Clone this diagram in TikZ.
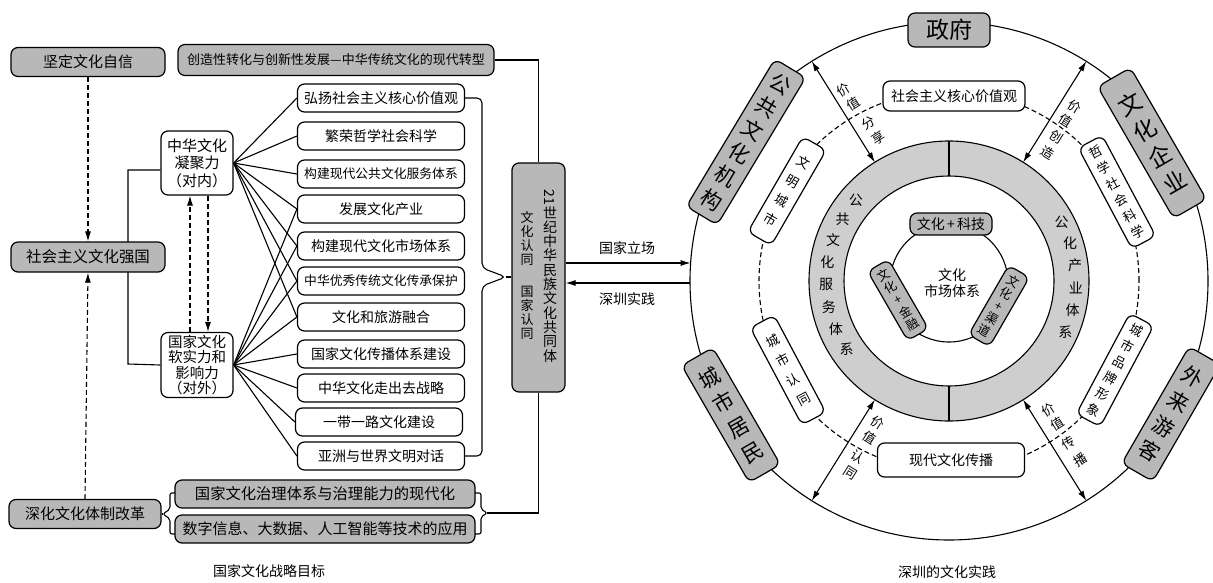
\documentclass[tikz,border=0pt]{standalone}
\usepackage{fontspec}
\setmainfont{Noto Sans CJK SC}
\usepackage{graphicx}
\usetikzlibrary{arrows.meta,calc,backgrounds}
\definecolor{boxgray}{HTML}{B8B8B8}
\definecolor{ringgray}{HTML}{CECECE}
\newcommand{\fsz}[2]{\fontsize{#1}{#2}\selectfont}
\tikzset{
  base/.style={draw, line width=1.2pt, inner sep=0pt, align=center},
  gbox/.style={base, fill=boxgray, rounded corners=7pt},
  wbox/.style={base, fill=white, rounded corners=7pt},
  lbox/.style={wbox, minimum width=167pt, minimum height=28pt, font=\fsz{14}{16}},
  conn/.style={line width=1.1pt},
  dsh/.style={line width=1.1pt, dash pattern=on 5pt off 3pt},
  tip/.style={-{Latex[length=10pt,width=6pt]}},
  dtip/.style={{Latex[length=10pt,width=6pt]}-{Latex[length=10pt,width=6pt]}},
  lab/.style={font=\fsz{14}{16}, inner sep=1pt},
  alab/.style={font=\fsz{13}{13}, inner sep=0pt},
}
\begin{document}
\begin{tikzpicture}[x=1pt,y=-1pt]
\useasboundingbox (0,0) rectangle (1213,583);
% ---------------- left panel ----------------
\node[gbox, minimum width=154pt, minimum height=29pt, font=\fsz{15}{17}] (jd) at (88,62) {坚定文化自信};
\node[gbox, minimum width=154pt, minimum height=30pt, font=\fsz{15.5}{17}] (sh) at (88,257) {社会主义文化强国};
\node[gbox, minimum width=152pt, minimum height=29pt, font=\fsz{15}{17}] (sc) at (85,514) {深化文化体制改革};
\node[wbox, minimum width=72pt, minimum height=64pt, font=\fsz{15}{17.5}] (nj) at (197,163) {中华文化\\凝聚力\\（对内）};
\node[wbox, minimum width=72pt, minimum height=65pt, font=\fsz{14.5}{15.5}] (rs) at (197,365) {国家文化\\软实力和\\影响力\\（对外）};
\node[gbox, minimum width=316pt, minimum height=31pt, font=\fsz{13}{15}] (cz) at (336,60) {创造性转化与创新性发展—中华传统文化的现代转型};
\node[lbox] (b1) at (381,98) {弘扬社会主义核心价值观};
\node[lbox] (b2) at (381,136) {繁荣哲学社会科学};
\node[lbox, font=\fsz{12.8}{15}] (b3) at (381,174) {构建现代公共文化服务体系};
\node[lbox] (b4) at (381,209) {发展文化产业};
\node[lbox] (b5) at (381,246) {构建现代文化市场体系};
\node[lbox, font=\fsz{12.8}{15}] (b6) at (381,281) {中华优秀传统文化传承保护};
\node[lbox] (b7) at (381,317) {文化和旅游融合};
\node[lbox] (b8) at (381,354) {国家文化传播体系建设};
\node[lbox] (b9) at (381,388) {中华文化走出去战略};
\node[lbox] (b10) at (379,422) {一带一路文化建设};
\node[lbox] (b11) at (381,456) {亚洲与世界文明对话};
\node[gbox, minimum width=300pt, minimum height=28pt, font=\fsz{15.3}{17}] (zl) at (325,494) {国家文化治理体系与治理能力的现代化};
\node[gbox, minimum width=300pt, minimum height=28pt, font=\fsz{15}{17}] (sz) at (325,529) {数字信息、大数据、人工智能等技术的应用};
\node[gbox, minimum width=53pt, minimum height=229pt] (gt) at (538.5,277.5) {};
\node[font=\fsz{14}{14.3}, align=center, inner sep=0pt] (gtr) at (550,276) {\rotatebox{-90}{21}\\世\\纪\\中\\华\\民\\族\\文\\化\\共\\同\\体};
\node[font=\fsz{13}{14}, align=center, inner sep=0pt] (gtl) at (527,275.5) {文\\化\\认\\同\\[18pt]国\\家\\认\\同};
\node[lab] (gjlc) at (627,248) {国家立场};
\node[lab] (szsj) at (627,299) {深圳实践};
\node[lab] (cap1) at (269,571) {国家文化战略目标};
\node[lab] (cap2) at (947,572) {深圳的文化实践};
\coordinate (btip) at (506,277);
\coordinate (ltip) at (163,514);
\coordinate (rtip) at (487,513);
\coordinate (p1) at (690.6,263);
\coordinate (p2) at (690.2,283);

% ---------------- right panel ----------------
\coordinate (C) at (949,281);
\node[gbox, minimum width=82pt, minimum height=34pt, font=\fsz{23}{25}] (zf) at (949,30) {政府};
\node[gbox, rotate=-31, minimum width=36pt, minimum height=172pt, font=\fsz{21}{27}] (gg) at (746,142) {公\\共\\文\\化\\机\\构};
\node[gbox, rotate=30, minimum width=38pt, minimum height=152pt, font=\fsz{23}{30}] (wq) at (1152,143) {文\\化\\企\\业};
\node[gbox, rotate=30, minimum width=36pt, minimum height=135pt, font=\fsz{21}{28.5}] (cm) at (731,415) {城\\市\\居\\民};
\node[gbox, rotate=-30, minimum width=36pt, minimum height=135pt, font=\fsz{21}{28.5}] (wl) at (1171,414) {外\\来\\游\\客};

\node[wbox, minimum width=142pt, minimum height=30pt, font=\fsz{14}{16}] (hx) at (954,96) {社会主义核心价值观};
\node[wbox, minimum width=147pt, minimum height=34pt, font=\fsz{14}{16}] (xd) at (951,460) {现代文化传播};
\node[wbox, rotate=-30, minimum width=27pt, minimum height=110pt, font=\fsz{13}{22}] (wm) at (787,191) {文\\明\\城\\市};
\node[wbox, rotate=28, minimum width=27pt, minimum height=110pt, font=\fsz{13}{22}] (cr) at (788,370) {城\\市\\认\\同};
\node[wbox, rotate=28, minimum width=27pt, minimum height=114pt, font=\fsz{13}{18}] (zx) at (1117,192) {哲\\学\\社\\会\\科\\学};
\node[wbox, rotate=-28, minimum width=27pt, minimum height=114pt, font=\fsz{13}{18}] (pp) at (1115,370) {城\\市\\品\\牌\\形\\象};

\node[gbox, minimum width=82pt, minimum height=22pt, font=\fsz{14}{16}] (kj) at (951,224) {文化\,+\,科技};
\node[gbox, rotate=30, minimum width=24pt, minimum height=80pt, font=\fsz{12.5}{14.2}] (jr) at (898,300) {文\\化\\+\\金\\融};
\node[gbox, rotate=-30, minimum width=24pt, minimum height=80pt, font=\fsz{12.5}{14.2}] (qd) at (999,306) {文\\化\\+\\渠\\道};
\node[font=\fsz{14}{16}, align=center, inner sep=0pt] (sc2) at (952,283) {文化\\市场体系};

\foreach \c [count=\k from 0] in {公,共,文,化,服,务,体,系}
  \node[font=\fsz{14}{14}, inner sep=0pt] at ($(C)+(139.2+10.63*\k:123pt)$) {\c};
\foreach \c [count=\k from 0] in {公,化,产,业,体,系}
  \node[font=\fsz{14}{14}, inner sep=0pt] at ($(C)+(27.6-10.26*\k:127pt)$) {\c};

% arrow labels
\node[alab, rotate=32] at (843,90) {价};
\node[alab, rotate=32] at (853,104) {值};
\node[alab, rotate=32] at (868,123) {分};
\node[alab, rotate=32] at (878,138) {享};
\node[alab, rotate=-32] at (1075,107) {价};
\node[alab, rotate=-32] at (1066,121) {值};
\node[alab, rotate=-32] at (1057,137) {创};
\node[alab, rotate=-32] at (1048,153) {造};
\node[alab, rotate=-32] at (878,423) {价};
\node[alab, rotate=-32] at (870,438) {值};
\node[alab, rotate=-32] at (858,457) {认};
\node[alab, rotate=-32] at (850,473) {同};
\node[alab, rotate=32] at (1048,410) {价};
\node[alab, rotate=32] at (1057,424) {值};
\node[alab, rotate=32] at (1068,443) {传};
\node[alab, rotate=32] at (1080,460) {播};

% ---------------- connectors ----------------
\begin{scope}[on background layer]
  % left
  \draw[conn] ([yshift=-7pt]nj.west) -- (128,170) -- (128,364) -- (rs.west);
  \draw[dsh, tip] (jd.south) -- (sh.north);
  \draw[dsh, tip] (sc.north) -- (sh.south);
  \draw[dsh, tip] ($(rs.north)+(-7,0)$) -- ($(nj.south)+(-7,0)$);
  \draw[dsh, tip] ($(nj.south)+(11,0)$) -- ($(rs.north)+(11,0)$);
  \foreach \b in {b1,b2,b3,b4,b5,b6,b7} \draw[conn] (nj.east) -- (\b.west);
  \foreach \b in {b4,b5,b6,b7,b8,b9,b10,b11} \draw[conn] (rs.east) -- (\b.west);
  \draw[conn, rounded corners=5pt] (b1.east) -- (482,98) -- (482,268) -- (btip) -- (482,286) -- (482,456) -- (b11.east);
  \draw[conn] (btip) -- (gt.west |- btip);
  \draw[conn] (cz.east) -| (gt.north);
  \draw[conn, rounded corners=2pt] (175,493) -- (170,493) -- (170,509) -- (ltip) -- (170,519) -- (170,534) -- (175,534);
  \draw[conn] (ltip) -- (sc.east |- ltip);
  \draw[conn, rounded corners=2pt] (474,493) -- (481,493) -- (481,509) -- (rtip) -- (481,517) -- (481,534) -- (474,534);
  \draw[conn] (rtip) -| (gt.south);
  \draw[conn, tip] (gt.east |- p1) -- (p1);
  \draw[conn, tip] (p2) -- (gt.east |- p2);
  % right
  \fill[ringgray, even odd rule] (C) circle[radius=140pt] (C) circle[radius=105pt];
  \draw[conn] (C) circle[radius=140pt];
  \draw[conn] (C) circle[radius=105pt];
  \draw[conn] ($(C)+(90:140pt)$) -- ($(C)+(90:105pt)$);
  \draw[conn] ($(C)+(270:140pt)$) -- ($(C)+(270:105pt)$);
  \draw[conn] (C) circle[radius=259pt];
  \draw[dsh] (C) circle[radius=190pt];
  \draw[conn] (949,283) circle[radius=59pt];
  \draw[conn, dtip] ($(C)+(122:259pt)$) -- ($(C)+(122:140pt)$);
  \draw[conn, dtip] ($(C)+(58:259pt)$) -- ($(C)+(58:140pt)$);
  \draw[conn, dtip] ($(C)+(238:259pt)$) -- ($(C)+(238:140pt)$);
  \draw[conn, dtip] ($(C)+(302:259pt)$) -- ($(C)+(302:140pt)$);
\end{scope}
\end{tikzpicture}
\end{document}
